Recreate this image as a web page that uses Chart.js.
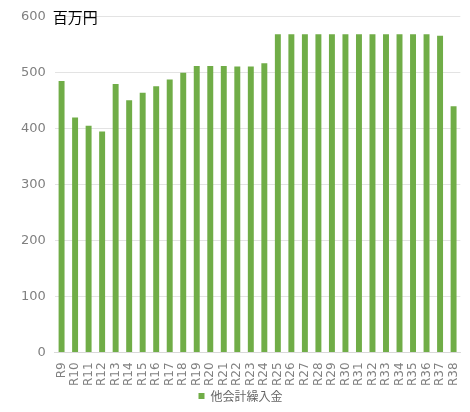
<!DOCTYPE html>
<html>
<head>
<meta charset="utf-8">
<script src="https://cdn.jsdelivr.net/npm/chart.js@4/dist/chart.umd.min.js"></script>
<style>
  html, body { margin: 0; padding: 0; background: #fff; }
  #wrap { width: 470px; height: 412px; }
</style>
</head>
<body>
<div id="wrap"><canvas id="grafica"></canvas></div>
<script>
// 年度（R9〜R38）
const nendo = ["R9", "R10", "R11", "R12", "R13", "R14", "R15", "R16", "R17", "R18",
  "R19", "R20", "R21", "R22", "R23", "R24", "R25", "R26", "R27", "R28",
  "R29", "R30", "R31", "R32", "R33", "R34", "R35", "R36", "R37", "R38"];
// 他会計繰入金（百万円）
const kurireKin = [485, 420, 405, 395, 480, 451, 464, 476, 488, 500,
  512, 512, 512, 511, 511, 517, 569, 569, 569, 569,
  569, 569, 569, 569, 569, 569, 569, 569, 566, 440];
// 縦軸の目盛り
const yMin = 0;
const yMax = 600;
const yStep = 100;

const fuenteJa = "'Noto Sans CJK JP', sans-serif";
const fuenteNum = "'DejaVu Sans', sans-serif";

// 単位ラベル「百万円」をグラフ左上に描く
const tani = {
  id: "tani",
  afterDraw(chart) {
    const { ctx, chartArea } = chart;
    ctx.save();
    ctx.font = "15px " + fuenteJa;
    ctx.fillStyle = "#000";
    ctx.textBaseline = "middle";
    ctx.textAlign = "left";
    ctx.fillText("百万円", chartArea.left - 2, chartArea.top);
    ctx.restore();
  }
};

new Chart(document.querySelector("#grafica"), {
  type: "bar",
  data: {
    labels: nendo,
    datasets: [{
      label: "他会計繰入金",
      data: kurireKin,
      backgroundColor: "#70ad47",
      borderWidth: 0,
      categoryPercentage: 1,
      barPercentage: 0.44
    }]
  },
  options: {
    responsive: true,
    maintainAspectRatio: false,
    animation: false,
    layout: { padding: { top: 8, right: 1, left: 12, bottom: 0 } },
    plugins: {
      legend: {
        position: "bottom",
        labels: {
          font: { family: fuenteJa, size: 12 },
          color: "#666",
          boxWidth: 6,
          boxHeight: 6,
          padding: 2
        }
      },
      tooltip: { enabled: false }
    },
    scales: {
      x: {
        grid: { display: false },
        border: { color: "#d9d9d9" },
        ticks: {
          font: { family: fuenteNum, size: 12 },
          color: "#808080",
          maxRotation: 90,
          minRotation: 90,
          autoSkip: false,
          padding: 2
        }
      },
      y: {
        min: yMin,
        max: yMax,
        grid: { color: "#e3e3e3", drawTicks: false },
        border: { display: false },
        ticks: {
          stepSize: yStep,
          font: { family: fuenteNum, size: 13 },
          color: "#808080",
          padding: 9
        }
      }
    }
  },
  plugins: [tani]
});
</script>
</body>
</html>
